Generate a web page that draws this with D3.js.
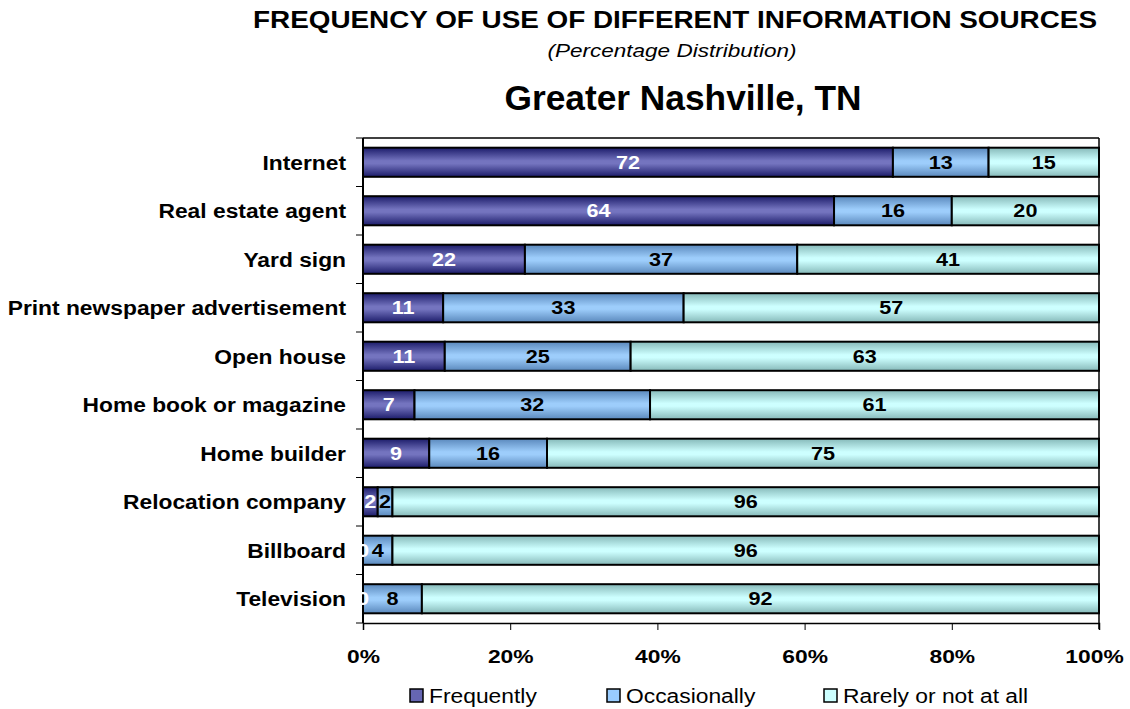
<!DOCTYPE html>
<html>
<head>
<meta charset="utf-8">
<script src="https://cdn.jsdelivr.net/npm/d3@7"></script>
<style>
  html, body { margin: 0; padding: 0; background: #fff; }
  svg { display: block; font-family: "Liberation Sans", Arial, sans-serif; }
</style>
</head>
<body>
<svg id="chart" width="1130" height="709"></svg>
<script>
// Survey categories, top to bottom
const categories = [
  "Internet", "Real estate agent", "Yard sign", "Print newspaper advertisement",
  "Open house", "Home book or magazine", "Home builder", "Relocation company",
  "Billboard", "Television"
];
// Percentage answering each frequency
const frequently   = [72, 64, 22, 11, 11, 7, 9, 2, 0, 0];
const occasionally = [13, 16, 37, 33, 25, 32, 16, 2, 4, 8];
const rarely       = [15, 20, 41, 57, 63, 61, 75, 96, 96, 92];

const seriesNames = ["Frequently", "Occasionally", "Rarely or not at all"];
const tickValues = [0, 0.2, 0.4, 0.6, 0.8, 1];

const svg = d3.select("#chart");
const margin = { left: 363, right: 31, top: 138, bottom: 86 };
const W = 1130, H = 709;
const plotW = W - margin.left - margin.right;
const plotH = H - margin.top - margin.bottom;

// Widen glyphs horizontally (wide sans look)
function stretch(sel, f) {
  sel.each(function () {
    const w = this.getComputedTextLength();
    if (w > 0) {
      d3.select(this).attr("textLength", w * f).attr("lengthAdjust", "spacingAndGlyphs");
    }
  });
}

// Bar fills: vertical gradient, darker at the edges
const palette = [
  { edge: "#1c1c6a", mid: "#7474bf", label: "#ffffff", swatch: "#6666b3" },
  { edge: "#5a88bc", mid: "#9dcdfb", label: "#000000", swatch: "#99ccff" },
  { edge: "#86b9b9", mid: "#cdffff", label: "#000000", swatch: "#ccffff" }
];
const defs = svg.append("defs");
palette.forEach((p, i) => {
  const g = defs.append("linearGradient").attr("id", "grad" + i)
    .attr("x1", 0).attr("y1", 0).attr("x2", 0).attr("y2", 1);
  g.append("stop").attr("offset", "0%").attr("stop-color", p.edge);
  g.append("stop").attr("offset", "45%").attr("stop-color", p.mid);
  g.append("stop").attr("offset", "55%").attr("stop-color", p.mid);
  g.append("stop").attr("offset", "100%").attr("stop-color", p.edge);
});

// Rows normalised to a 100% total
const rows = categories.map((c, i) => {
  const vals = [frequently[i], occasionally[i], rarely[i]];
  const total = d3.sum(vals);
  let acc = 0;
  const segs = vals.map((v, k) => {
    const s = { key: k, value: v, x0: acc / total, x1: (acc + v) / total };
    acc += v;
    return s;
  });
  return { category: c, segs };
});

const x = d3.scaleLinear().domain([0, 1]).range([0, plotW]);
const y = d3.scaleBand().domain(categories).range([0, plotH]).paddingInner(0.4).paddingOuter(0.2);

const g = svg.append("g").attr("transform", `translate(${margin.left},${margin.top})`);

// Plot frame: top and right edges
g.append("line").attr("x1", 0).attr("x2", plotW).attr("y1", 0).attr("y2", 0)
  .attr("stroke", "#000").attr("stroke-width", 1.5);
g.append("line").attr("x1", plotW).attr("x2", plotW).attr("y1", 0).attr("y2", plotH + 6)
  .attr("stroke", "#000").attr("stroke-width", 1.5);

// Category boundary ticks on the left axis
const step = plotH / categories.length;
g.append("line").attr("x1", 0).attr("x2", 0).attr("y1", 0).attr("y2", plotH)
  .attr("stroke", "#000").attr("stroke-width", 2);
d3.range(categories.length + 1).forEach(i => {
  g.append("line").attr("x1", -7).attr("x2", 0).attr("y1", i * step).attr("y2", i * step)
    .attr("stroke", "#000").attr("stroke-width", 1);
});

// Bars
const rowG = g.selectAll(".row").data(rows).join("g")
  .attr("class", "row")
  .attr("transform", d => `translate(0,${y(d.category)})`);

rowG.selectAll("rect").data(d => d.segs).join("rect")
  .attr("x", d => x(d.x0))
  .attr("width", d => x(d.x1) - x(d.x0))
  .attr("y", 0)
  .attr("height", y.bandwidth())
  .attr("fill", d => `url(#grad${d.key})`)
  .attr("stroke", "#000")
  .attr("stroke-width", 2);

const vals = rowG.selectAll("text.val").data(d => d.segs).join("text")
  .attr("class", "val")
  .attr("x", d => Math.max(x((d.x0 + d.x1) / 2), 0))
  .attr("y", y.bandwidth() / 2)
  .attr("dy", "0.37em")
  .attr("text-anchor", "middle")
  .attr("font-size", 18)
  .attr("font-weight", "bold")
  .attr("fill", d => palette[d.key].label)
  .text(d => d.value);
stretch(vals, 1.2);

// Category labels
const cats = g.selectAll(".cat").data(categories).join("text")
  .attr("class", "cat")
  .attr("x", -17)
  .attr("y", d => y(d) + y.bandwidth() / 2)
  .attr("dy", "0.38em")
  .attr("text-anchor", "end")
  .attr("font-size", 20)
  .attr("font-weight", "bold")
  .text(d => d);
stretch(cats, 1.14);

// Percentage axis
const xAxis = g.append("g").attr("transform", `translate(0,${plotH})`)
  .call(d3.axisBottom(x).tickValues(tickValues).tickFormat(d3.format(".0%")).tickSize(7).tickPadding(20));
xAxis.select(".domain").attr("stroke", "#000").attr("stroke-width", 1.5);
xAxis.selectAll(".tick line").attr("stroke", "#000");
const tl = xAxis.selectAll(".tick text").attr("font-size", 19).attr("font-weight", "bold")
  .attr("font-family", "Liberation Sans, Arial, sans-serif").attr("fill", "#000");
stretch(tl, 1.2);
// the last label sits slightly inside the frame
tl.filter(d => d === 1).attr("dx", -5);

// Titles
const t1 = svg.append("text").attr("x", 675).attr("y", 28).attr("text-anchor", "middle")
  .attr("font-size", 24).attr("font-weight", "bold").text("FREQUENCY OF USE OF DIFFERENT INFORMATION SOURCES");
t1.attr("textLength", 844).attr("lengthAdjust", "spacingAndGlyphs");
const t2 = svg.append("text").attr("x", 672).attr("y", 57).attr("text-anchor", "middle")
  .attr("font-size", 18).attr("font-style", "italic").text("(Percentage Distribution)");
t2.attr("textLength", 249).attr("lengthAdjust", "spacingAndGlyphs");
const t3 = svg.append("text").attr("x", 683).attr("y", 110).attr("text-anchor", "middle")
  .attr("font-size", 35).attr("font-weight", "bold").text("Greater Nashville, TN");
t3.attr("textLength", 357).attr("lengthAdjust", "spacingAndGlyphs");

// Legend
const legendX = [410, 607, 824];
const leg = svg.selectAll(".leg").data(seriesNames).join("g")
  .attr("class", "leg")
  .attr("transform", (d, i) => `translate(${legendX[i]},689)`);
leg.append("rect").attr("x", 0).attr("y", 0).attr("width", 13).attr("height", 13)
  .attr("fill", (d, i) => palette[i].swatch).attr("stroke", "#000").attr("stroke-width", 1.5);
const lt = leg.append("text").attr("x", 19).attr("y", 14)
  .attr("font-size", 19.5).text(d => d);
stretch(lt, 1.17);
</script>
</body>
</html>
